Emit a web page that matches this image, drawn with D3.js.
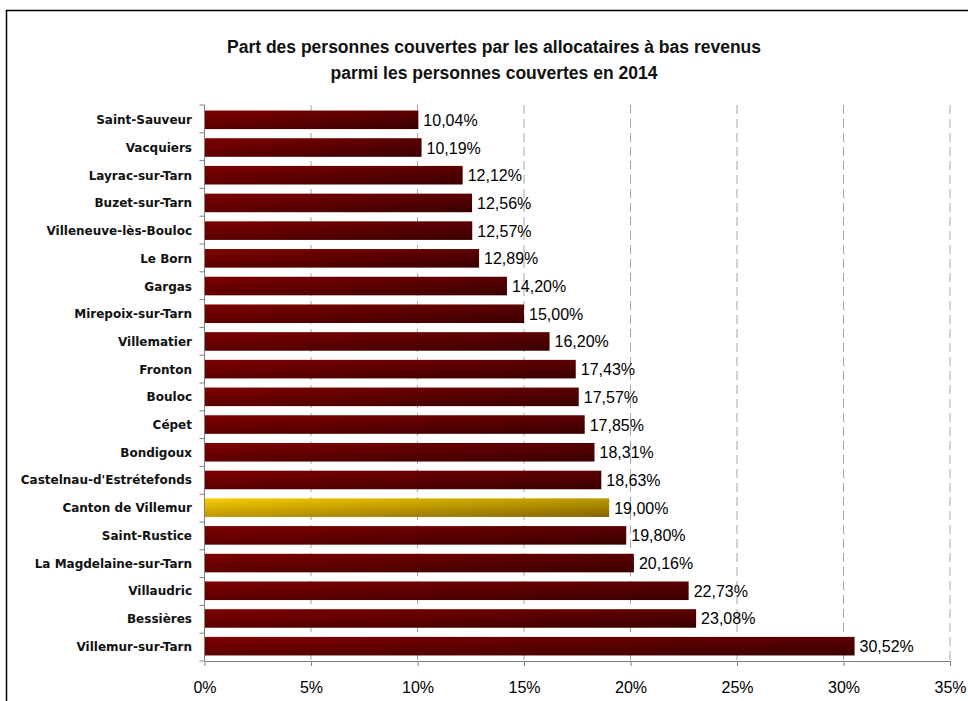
<!DOCTYPE html>
<html><head><meta charset="utf-8">
<script src="https://cdn.jsdelivr.net/npm/d3@7"></script>
<style>body{margin:0;background:#fff}svg{display:block}</style>
</head><body>
<svg id="c" width="968" height="701"></svg>
<script>
const titleLines = ["Part des personnes couvertes par les allocataires à bas revenus", "parmi les personnes couvertes en 2014"];
const categories = ["Saint-Sauveur","Vacquiers","Layrac-sur-Tarn","Buzet-sur-Tarn","Villeneuve-lès-Bouloc","Le Born","Gargas","Mirepoix-sur-Tarn","Villematier","Fronton","Bouloc","Cépet","Bondigoux","Castelnau-d'Estrétefonds","Canton de Villemur","Saint-Rustice","La Magdelaine-sur-Tarn","Villaudric","Bessières","Villemur-sur-Tarn"];
const values = [10.04,10.19,12.12,12.56,12.57,12.89,14.20,15.00,16.20,17.43,17.57,17.85,18.31,18.63,19.00,19.80,20.16,22.73,23.08,30.52];
const highlight = "Canton de Villemur";
const xTicks = [0,5,10,15,20,25,30,35];

const svg = d3.select("#c");
const defs = svg.append("defs");
function grad(id, c1, c2){
  const g = defs.append("linearGradient").attr("id", id).attr("x1","0").attr("y1","0").attr("x2","1").attr("y2","1");
  g.append("stop").attr("offset","0").attr("stop-color",c1);
  g.append("stop").attr("offset","1").attr("stop-color",c2);
}
grad("gRed","#7e0000","#3a0000");
grad("gGold","#f8cc00","#826400");

svg.append("rect").attr("x",6.5).attr("y",10.5).attr("width",1000).attr("height",1000)
  .attr("fill","none").attr("stroke","#000").attr("stroke-width",1.5);

const pL = 204.5, pR = 950, pT = 105, pB = 661;
const x = d3.scaleLinear().domain([0,35]).range([pL,pR]);
const y = d3.scaleBand().domain(categories).range([pT,pB]).paddingInner(0.33).paddingOuter(0.2);

svg.append("g").selectAll("text").data(titleLines).join("text")
  .attr("x",494).attr("y",(d,i)=>53+i*26).attr("text-anchor","middle")
  .attr("font-family","'Liberation Sans',Arial,sans-serif")
  .attr("font-weight","bold").attr("font-size",17.5).attr("fill","#111").text(d=>d);

// grid
svg.append("g").selectAll("line").data(xTicks.filter(d=>d>0)).join("line")
  .attr("x1",d=>x(d)).attr("x2",d=>x(d)).attr("y1",pT).attr("y2",pB)
  .attr("stroke","#a6a6a6").attr("stroke-width",1).attr("stroke-dasharray","9,5");

// bars
svg.append("g").selectAll("rect").data(categories).join("rect")
  .attr("x",x(0)).attr("y",d=>y(d)).attr("height",y.bandwidth())
  .attr("width",(d,i)=>x(values[i])-x(0))
  .attr("fill",d=>d===highlight?"url(#gGold)":"url(#gRed)");

// value labels
svg.append("g").selectAll("text").data(categories).join("text")
  .attr("x",(d,i)=>x(values[i])+5).attr("y",d=>y(d)+y.bandwidth()/2+6)
  .attr("font-family","'Liberation Sans',Arial,sans-serif")
  .attr("font-size",16).attr("fill","#000")
  .text((d,i)=>d3.format(".2f")(values[i]).replace(".",",")+"%");

// y axis
const yAxis = svg.append("g").attr("transform",`translate(${pL},0)`);
yAxis.append("line").attr("x1",0).attr("x2",0).attr("y1",pT).attr("y2",pB).attr("stroke","#808080");
const bounds = d3.range(categories.length+1).map(i=>pT+i*(pB-pT)/categories.length);
yAxis.selectAll("line.t").data(bounds).join("line").attr("class","t")
  .attr("x1",-5).attr("x2",0).attr("y1",d=>d).attr("y2",d=>d).attr("stroke","#808080");
yAxis.selectAll("text").data(categories).join("text")
  .attr("x",-12.5).attr("y",d=>y(d)+y.bandwidth()/2+4.5)
  .attr("text-anchor","end").attr("font-family","'DejaVu Sans',Verdana,sans-serif")
  .attr("font-weight","bold").attr("font-size",12).attr("fill","#111").text(d=>d);

// x axis
const xAxis = svg.append("g").attr("transform",`translate(0,${pB})`)
  .call(d3.axisBottom(x).tickValues(xTicks).tickSize(5).tickSizeOuter(0).tickFormat(d=>d+"%"));
xAxis.select(".domain").attr("stroke","#808080");
xAxis.selectAll(".tick line").attr("stroke","#808080");
xAxis.selectAll(".tick text").attr("y",21).attr("font-family","'Liberation Sans',Arial,sans-serif")
  .attr("font-size",16).attr("fill","#000");
</script>
</body></html>
